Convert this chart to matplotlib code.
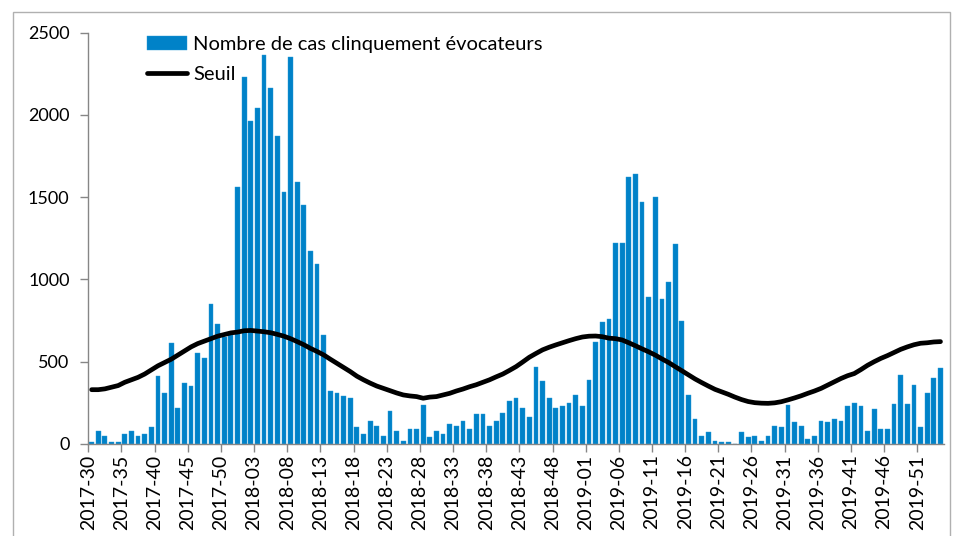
import numpy as np
import matplotlib
matplotlib.use("Agg")
import matplotlib.pyplot as plt
from matplotlib.patches import Rectangle

plt.rcParams.update({"font.family": ["Lato", "DejaVu Sans"]})
plt.rcParams.update({"font.size": 12})

# weeks: 2017-30 .. 2020-02
years = [2017, 2018, 2019, 2020]
first_week = [30, 1, 1, 1]
last_week = [52, 52, 52, 2]
weeks = []
for y, w0, w1 in zip(years, first_week, last_week):
    for w in range(w0, w1 + 1):
        weeks.append(f"{y}-{w:02d}")

cases = [
    10, 81, 51, 10, 10, 61, 81, 51, 61, 101,
    411, 310, 612, 221, 371, 350, 553, 520, 850, 729,
    652, 660, 1563, 2232, 1964, 2043, 2363, 2163, 1873, 1533,
    2353, 1592, 1452, 1173, 1092, 665, 322, 310, 290, 280,
    101, 61, 140, 109, 51, 200, 81, 20, 91, 91,
    239, 41, 81, 61, 121, 112, 140, 91, 180, 180,
    109, 140, 190, 259, 280, 219, 162, 470, 381, 280,
    219, 231, 247, 300, 231, 391, 620, 741, 761, 1219,
    1219, 1622, 1642, 1472, 893, 1502, 883, 982, 1213, 750,
    300, 152, 51, 71, 20, 10, 10, 0, 71, 41,
    51, 20, 51, 111, 101, 239, 132, 111, 30, 51,
    142, 132, 152, 142, 231, 249, 231, 81, 211, 91,
    91, 241, 419, 241, 360, 101, 310, 401, 460,
]

seuil = [
    330, 330, 335, 345, 355, 375, 390, 405, 425, 450,
    475, 495, 515, 540, 565, 590, 610, 625, 640, 655,
    665, 675, 680, 688, 690, 686, 682, 676, 666, 655,
    640, 622, 603, 581, 562, 541, 515, 490, 465, 440,
    412, 390, 370, 352, 338, 324, 310, 298, 292, 288,
    278, 285, 288, 298, 308, 322, 334, 348, 360, 375,
    390, 408, 425, 447, 470, 498, 527, 550, 572, 588,
    602, 615, 628, 640, 650, 655, 656, 652, 643, 640,
    632, 615, 597, 578, 560, 540, 517, 495, 470, 445,
    420, 395, 373, 352, 332, 317, 302, 285, 270, 258,
    251, 248, 247, 250, 257, 268, 280, 293, 308, 322,
    338, 358, 378, 398, 415, 428, 452, 478, 500, 520,
    537, 556, 575, 590, 603, 612, 615, 620, 622,
]

W, H = 958, 536
fig = plt.figure(figsize=(W / 100, H / 100), dpi=100)
ax = fig.add_axes([88.3 / W, 1 - 444 / H, (943.8 - 88.3) / W, (444 - 32.5) / H])

# outer frame of the chart
fig.patches.append(Rectangle((13 / W, -0.1), (950 - 13) / W, 1.1 - 12 / H,
                             transform=fig.transFigure, fill=False,
                             edgecolor="#b0b0b0", linewidth=1.0))

x = np.arange(len(weeks))
bars = ax.bar(x, cases, width=0.72, color="#0082C8", edgecolor="#2a9ad8",
              linewidth=0.3, label="Nombre de cas clinquement évocateurs")
line, = ax.plot(x, seuil, color="black", linewidth=3.4, solid_capstyle="round",
                label="Seuil")

ax.set_xlim(-0.5, len(weeks) - 0.5)
ax.set_ylim(0, 2500)
ax.set_yticks(range(0, 2501, 500))
ax.tick_params(axis="y", labelsize=13)

tick_idx = [i for i in range(len(weeks)) if i % 5 == 0 and i < 128]
ax.set_xticks([i - 0.5 for i in tick_idx])
ax.set_xticklabels([weeks[i] for i in tick_idx], rotation=90, fontsize=14)

for s in ["top", "right"]:
    ax.spines[s].set_visible(False)
for s in ["left", "bottom"]:
    ax.spines[s].set_color("#868686")
    ax.spines[s].set_linewidth(1.0)
ax.tick_params(axis="both", direction="out", length=5.5, color="#868686",
               width=1.0)
ax.tick_params(axis="y", pad=8)
ax.tick_params(axis="x", pad=2)

leg = ax.legend(handles=[bars, line], loc="upper left",
                bbox_to_anchor=(147 / W, 1 - 36 / H),
                bbox_transform=fig.transFigure, frameon=False,
                handlelength=2.0, handletextpad=0.3, labelspacing=0.62,
                borderpad=0, borderaxespad=0, fontsize=14.5)

fig.savefig("out.png", dpi=100)
